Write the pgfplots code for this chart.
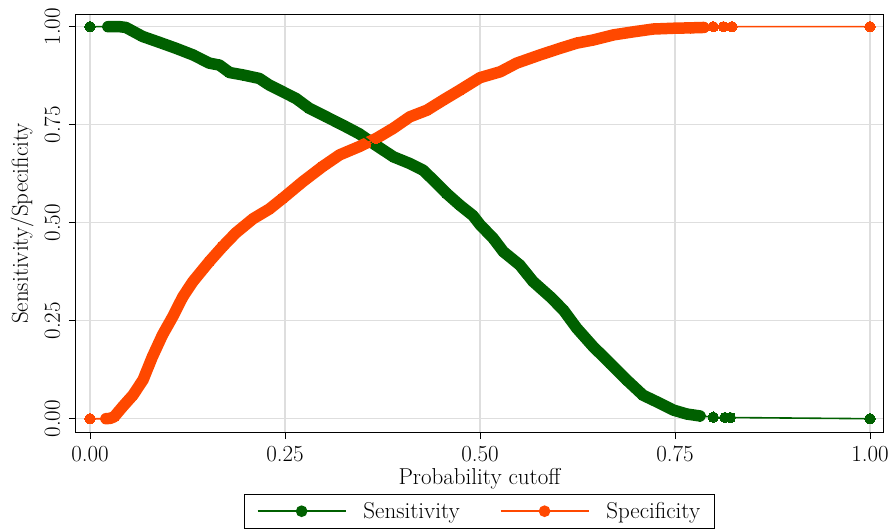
\documentclass[border=0pt]{standalone}
\usepackage{pgfplots}
\pgfplotsset{compat=1.18}
\definecolor{sensgreen}{RGB}{0,96,0}
\definecolor{specorange}{RGB}{255,72,0}
\newcommand{\chfont}{\fontsize{23bp}{27bp}\selectfont}
\pgfplotstableread{
x y
0.023 1.000
0.030 1.000
0.038 1.000
0.046 0.998
0.0675 0.975
0.089 0.960
0.110 0.945
0.132 0.928
0.153 0.907
0.166 0.902
0.179 0.883
0.196 0.877
0.217 0.868
0.230 0.851
0.247 0.834
0.264 0.817
0.281 0.792
0.303 0.770
0.324 0.749
0.345 0.727
0.367 0.697
0.389 0.668
0.410 0.651
0.427 0.634
0.440 0.609
0.457 0.575
0.474 0.545
0.491 0.518
0.500 0.495
0.517 0.460
0.530 0.426
0.551 0.392
0.568 0.350
0.590 0.311
0.607 0.277
0.624 0.231
0.645 0.184
0.667 0.141
0.688 0.099
0.709 0.060
0.731 0.039
0.748 0.022
0.765 0.012
0.782 0.007
}\sensband
\pgfplotstableread{
x y
0.000 1.000
0.023 1.000
0.030 1.000
0.038 1.000
0.046 0.998
0.0675 0.975
0.089 0.960
0.110 0.945
0.132 0.928
0.153 0.907
0.166 0.902
0.179 0.883
0.196 0.877
0.217 0.868
0.230 0.851
0.247 0.834
0.264 0.817
0.281 0.792
0.303 0.770
0.324 0.749
0.345 0.727
0.367 0.697
0.389 0.668
0.410 0.651
0.427 0.634
0.440 0.609
0.457 0.575
0.474 0.545
0.491 0.518
0.500 0.495
0.517 0.460
0.530 0.426
0.551 0.392
0.568 0.350
0.590 0.311
0.607 0.277
0.624 0.231
0.645 0.184
0.667 0.141
0.688 0.099
0.709 0.060
0.731 0.039
0.748 0.022
0.765 0.012
0.782 0.007
0.799 0.004
0.814 0.003
0.821 0.003
1.000 0.000
}\sensall
\pgfplotstableread{
x y
0.0205 0.000
0.026 0.001
0.031 0.005
0.042 0.031
0.055 0.060
0.068 0.099
0.080 0.158
0.093 0.214
0.106 0.260
0.119 0.311
0.132 0.350
0.153 0.401
0.170 0.439
0.187 0.474
0.209 0.510
0.230 0.535
0.247 0.562
0.273 0.605
0.298 0.643
0.320 0.673
0.345 0.694
0.367 0.715
0.389 0.741
0.410 0.770
0.432 0.787
0.453 0.813
0.474 0.838
0.500 0.870
0.526 0.885
0.547 0.907
0.577 0.928
0.603 0.945
0.624 0.958
0.645 0.966
0.671 0.979
0.697 0.987
0.722 0.994
0.748 0.996
0.770 0.997
0.787 0.998
}\specband
\pgfplotstableread{
x y
0.000 0.000
0.0205 0.000
0.026 0.001
0.031 0.005
0.042 0.031
0.055 0.060
0.068 0.099
0.080 0.158
0.093 0.214
0.106 0.260
0.119 0.311
0.132 0.350
0.153 0.401
0.170 0.439
0.187 0.474
0.209 0.510
0.230 0.535
0.247 0.562
0.273 0.605
0.298 0.643
0.320 0.673
0.345 0.694
0.367 0.715
0.389 0.741
0.410 0.770
0.432 0.787
0.453 0.813
0.474 0.838
0.500 0.870
0.526 0.885
0.547 0.907
0.577 0.928
0.603 0.945
0.624 0.958
0.645 0.966
0.671 0.979
0.697 0.987
0.722 0.994
0.748 0.996
0.770 0.997
0.787 0.998
0.799 1.000
0.812 1.000
0.823 1.000
1.000 1.000
}\specall
\begin{document}
\begin{tikzpicture}
\begin{axis}[name=ax, scale only axis, width=807bp, height=417bp,
  xmin=-0.01795, xmax=1.01667, ymin=-0.0339, ymax=1.0298,
  xtick={0,0.25,0.5,0.75,1}, ytick={0,0.25,0.5,0.75,1},
  xticklabels={0.00,0.25,0.50,0.75,1.00},
  yticklabels={0.00,0.25,0.50,0.75,1.00},
  tick pos=left, tick align=outside, major tick length=7bp,
  every tick/.style={black, line width=1bp},
  axis line style={line width=1bp, black},
  grid=major, major grid style={line width=1.3bp, color=black!13},
  tick label style={font=\chfont, inner sep=1bp},
  yticklabel style={rotate=90, anchor=south},
  yticklabel shift=7.5bp,
  xticklabel shift=6bp,
  every axis y label/.style={at={(axis description cs:-0.0669,0.5)}, rotate=90, anchor=center, font=\chfont},
  every axis x label/.style={at={(axis description cs:0.5,-0.1127)}, anchor=center, inner sep=0pt, font=\chfont},
  xlabel={Probability cutoff},
  ylabel={Sensitivity/Specificity},
  legend columns=2,
  legend style={at={(axis description cs:0.5,-0.1487)}, anchor=north, draw=black, line width=0.8bp,
    font=\chfont, inner xsep=12bp, inner ysep=6bp,
    /tikz/every odd column/.append style={column sep=15bp},
    /tikz/every even column/.append style={column sep=38bp}},
  clip=false,
]
\addplot[sensgreen, line width=11.5bp, line join=round, line cap=round, forget plot] table {\sensband};
\addplot[specorange, line width=11.5bp, line join=round, line cap=round, forget plot] table {\specband};
\addplot[sensgreen, line width=1.6bp, mark=*, mark size=5.2bp, mark options={fill=sensgreen, draw=sensgreen, line width=0pt},
  legend image code/.code={\draw[sensgreen, line width=1.6bp] (0bp,0bp) -- (88bp,0bp); \fill[sensgreen] (44bp,0bp) circle (5bp);}]
  table {\sensall};
\addlegendentry{Sensitivity}
\addplot[specorange, line width=1.6bp, mark=*, mark size=5.2bp, mark options={fill=specorange, draw=specorange, line width=0pt},
  legend image code/.code={\draw[specorange, line width=1.6bp] (0bp,0bp) -- (88bp,0bp); \fill[specorange] (44bp,0bp) circle (5bp);}]
  table {\specall};
\addlegendentry{Specificity}
\end{axis}
\pgfresetboundingbox
\path[use as bounding box] ([shift={(-76bp,-100bp)}]ax.south west) rectangle ++(894bp,532bp);
\end{tikzpicture}
\end{document}
